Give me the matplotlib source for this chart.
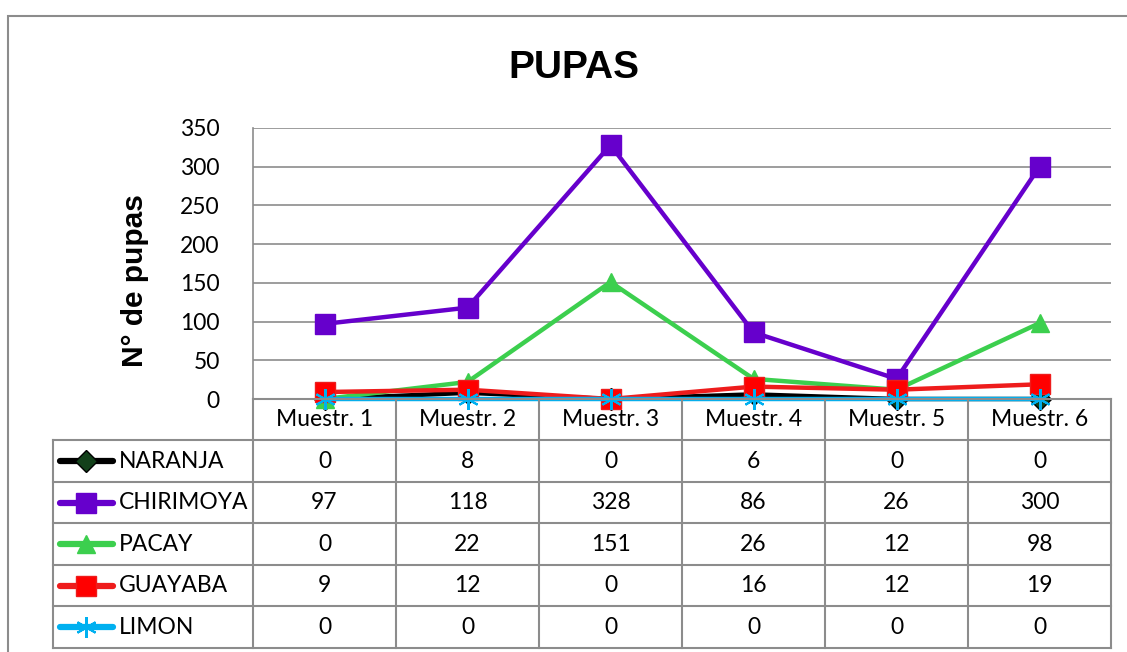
import matplotlib.pyplot as plt
from matplotlib.patches import Rectangle

categorias = ["Muestr. 1", "Muestr. 2", "Muestr. 3", "Muestr. 4", "Muestr. 5", "Muestr. 6"]
naranja = [0, 8, 0, 6, 0, 0]
chirimoya = [97, 118, 328, 86, 26, 300]
pacay = [0, 22, 151, 26, 12, 98]
guayaba = [9, 12, 0, 16, 12, 19]
limon = [0, 0, 0, 0, 0, 0]

series = [
    ("NARANJA", naranja, "#000000", "D", "#12401a", "#000000", 11),
    ("CHIRIMOYA", chirimoya, "#6600cc", "s", "#6600cc", "#6600cc", 14),
    ("PACAY", pacay, "#3ccf4e", "^", "#3ccf4e", "#3ccf4e", 13),
    ("GUAYABA", guayaba, "#ee1c1c", "s", "#ff0000", "#ee1c1c", 14),
    ("LIMON", limon, "#00b0f0", (6, 2, 0), "#00b0f0", "#00b0f0", 15),
]

W, H = 1127, 652
fig = plt.figure(figsize=(W / 100, H / 100), dpi=100)
txt_font = ["Lato", "DejaVu Sans"]
gris = "#8c8c8c"

# borde exterior del gráfico (sale por la derecha y por abajo)
fig.patches.append(Rectangle((8 / W, -0.05), 1.0, 1.05 - 16 / H, transform=fig.transFigure,
                             fill=False, edgecolor=gris, lw=1.5))

def px_axes(x0, y0, x1, y1):
    return fig.add_axes([x0 / W, 1 - y1 / H, (x1 - x0) / W, (y1 - y0) / H])

ax = px_axes(253, 128, 1111, 399)
n = len(categorias)
x = list(range(n))
for nombre, vals, col, mk, mfc, mec, ms in series:
    ax.plot(x, vals, color=col, lw=3.2, marker=mk, markersize=ms, markerfacecolor=mfc,
            markeredgecolor=mec, markeredgewidth=1.5 if mk == (6, 2, 0) else 1, clip_on=False, zorder=3)
ax.set_xlim(-0.5, n - 0.5)
ax.set_ylim(0, 350)
ax.set_yticks(range(0, 351, 50))
ax.set_xticks([])
ax.grid(axis="y", color=gris, lw=1.2)
ax.set_axisbelow(True)
for s in ["top", "right", "bottom"]:
    ax.spines[s].set_visible(False)
ax.spines["left"].set_color(gris)
ax.spines["left"].set_linewidth(1.2)
ax.tick_params(axis="y", length=0, pad=24, labelsize=16.5)
for lab in ax.get_yticklabels():
    lab.set_family(txt_font)

fig.text(574 / W, 1 - 68 / H, "PUPAS", ha="center", va="center", fontsize=28,
         fontweight="bold", family="Liberation Sans")
fig.text(135 / W, 1 - 281 / H, "N° de pupas", ha="center", va="center", fontsize=21.5,
         fontweight="bold", family="Liberation Sans", rotation=90)

# tabla de datos
leg_w = 200 / 143
t = px_axes(53, 399, 1111, 648)
t.set_xlim(-0.5 - leg_w, n - 0.5)
row_h = 41.5
t.set_ylim(648, 399)
t.axis("off")
y_head = 399
lw_t = 1.5
for i in range(n + 1):
    t.plot([i - 0.5, i - 0.5], [y_head, 648], color=gris, lw=lw_t, clip_on=False)
t.plot([-0.5 - leg_w, -0.5 - leg_w], [y_head + row_h, 648], color=gris, lw=lw_t, clip_on=False)
t.plot([-0.5, n - 0.5], [y_head, y_head], color=gris, lw=lw_t, clip_on=False)
for r in range(1, len(series) + 2):
    yy = y_head + r * row_h
    t.plot([-0.5 - leg_w, n - 0.5], [yy, yy], color=gris, lw=lw_t, clip_on=False)
for i, c in enumerate(categorias):
    t.text(i, y_head + row_h / 2, c, ha="center", va="center", fontsize=16.5, family=txt_font)
for r, (nombre, vals, col, mk, mfc, mec, ms) in enumerate(series):
    yc = y_head + (r + 1.5) * row_h
    x0 = -0.5 - leg_w + 7 / 143
    x1 = -0.5 - leg_w + 60 / 143
    t.plot([x0, x1], [yc, yc], color=col, lw=4.5, solid_capstyle="round", clip_on=False)
    t.plot([(x0 + x1) / 2], [yc], marker=mk, markersize=ms, markerfacecolor=mfc,
           markeredgecolor=mec, markeredgewidth=1.5 if mk == (6, 2, 0) else 1, clip_on=False)
    t.text(-0.5 - leg_w + 66 / 143, yc, nombre, ha="left", va="center", fontsize=16.5, family=txt_font)
    for i, v in enumerate(vals):
        t.text(i, yc, str(v), ha="center", va="center", fontsize=16.5, family=txt_font)

fig.savefig("out.png", dpi=100)
